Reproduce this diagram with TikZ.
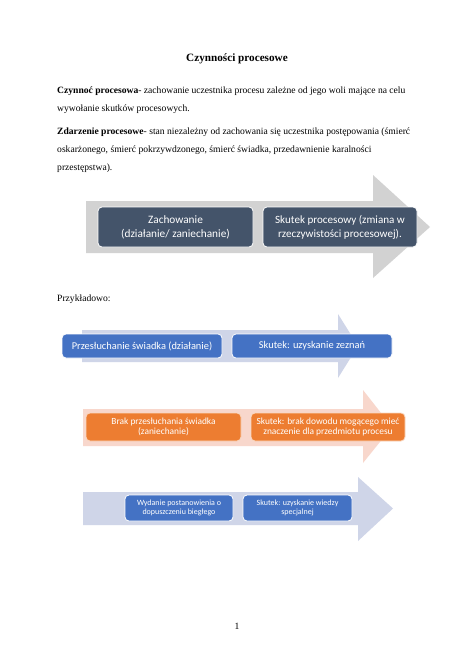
\documentclass[tikz,border=0pt]{standalone}
\usepackage{fontspec}
\setmainfont{Liberation Serif}
\newfontfamily\calibri{Carlito}
\definecolor{arrowgrey}{HTML}{D2D2D2}
\definecolor{slate}{HTML}{44546A}
\definecolor{arrowblue}{HTML}{CFD5E8}
\definecolor{boxblue}{HTML}{4472C4}
\definecolor{arrowsalmon}{HTML}{F8D7CC}
\definecolor{boxorange}{HTML}{ED7D31}
\tikzset{
  bodytext/.style={anchor=base west, inner sep=0pt, font=\fontsize{9.6}{11}\selectfont},
  bigarrow/.style={draw=none},
  procbox/.style={draw=white, line width=0.8pt, rounded corners=4pt, text=white, align=center, inner sep=1pt},
}
\begin{document}
\begin{tikzpicture}[x=1pt,y=-1pt]
\useasboundingbox (0,0) rectangle (474,669);
\fill[white] (0,0) rectangle (474,669);

% title and text
\node[anchor=base, inner sep=0pt, font=\fontsize{11.2}{13}\selectfont\bfseries] (title) at (237,62) {Czynności procesowe};
\node[bodytext] (p1a) at (57,93) {\textbf{Czynnoć procesowa}- zachowanie uczestnika procesu zależne od jego woli mające na celu};
\node[bodytext] (p1b) at (57,111) {wywołanie skutków procesowych.};
\node[bodytext] (p2a) at (57,134) {\textbf{Zdarzenie procesowe}- stan niezależny od zachowania się uczestnika postępowania (śmierć};
\node[bodytext] (p2b) at (57,152) {oskarżonego, śmierć pokrzywdzonego, śmierć świadka, przedawnienie karalności};
\node[bodytext] (p2c) at (57,170) {przestępstwa).};
\node[bodytext] (ex) at (57,301) {Przykładowo:};
\node[anchor=base, inner sep=0pt, font=\fontsize{9.6}{11}\selectfont] (pg) at (237,629) {1};

% arrow 1
\fill[arrowgrey] (86,201) -- (373,201) -- (373,175) -- (430,227) -- (373,278) -- (373,253) -- (86,253) -- cycle;
\node[procbox, fill=slate, minimum width=155pt, minimum height=40pt, font=\calibri\fontsize{11.3}{14}\selectfont] (a1b1) at (175.5,227) {Zachowanie\\(działanie/ zaniechanie)};
\node[procbox, fill=slate, minimum width=154pt, minimum height=40pt, font=\calibri\fontsize{11.1}{14}\selectfont] (a1b2) at (340,227) {Skutek procesowy (zmiana w\\rzeczywistości procesowej).};

% arrow 2
\fill[arrowblue] (82,330) -- (338,330) -- (338,314) -- (358,346) -- (338,378) -- (338,362) -- (82,362) -- cycle;
\node[procbox, fill=boxblue, minimum width=160pt, minimum height=24pt, font=\calibri\fontsize{10.4}{12}\selectfont] (a2b1) at (142,346) {Przesłuchanie świadka (działanie)};
\node[procbox, fill=boxblue, minimum width=160pt, minimum height=24pt, font=\calibri\fontsize{10.4}{12}\selectfont] (a2b2) at (312,346) {Skutek: uzyskanie zeznań};

% arrow 3
\fill[arrowsalmon] (83,409) -- (363,409) -- (363,390) -- (392,427) -- (363,463) -- (363,446) -- (83,446) -- cycle;
\node[procbox, draw=white!70!boxorange, fill=boxorange, minimum width=155pt, minimum height=28pt, font=\calibri\fontsize{9.4}{10.6}\selectfont] (a3b1) at (163.5,427) {Brak przesłuchania świadka\\(zaniechanie)};
\node[procbox, draw=white!70!boxorange, fill=boxorange, minimum width=154pt, minimum height=28pt, font=\calibri\fontsize{9.4}{10.6}\selectfont] (a3b2) at (328,427) {Skutek: brak dowodu mogącego mieć\\znaczenie dla przedmiotu procesu};

% arrow 4
\fill[arrowblue] (83,492) -- (358,492) -- (358,477) -- (393,508.5) -- (358,541) -- (358,525) -- (83,525) -- cycle;
\node[procbox, fill=boxblue, minimum width=108pt, minimum height=26pt, font=\calibri\fontsize{8.0}{9.4}\selectfont] (a4b1) at (179,508) {Wydanie postanowienia o\\dopuszczeniu biegłego};
\node[procbox, fill=boxblue, minimum width=109pt, minimum height=26pt, font=\calibri\fontsize{8.0}{9.4}\selectfont] (a4b2) at (297.5,508) {Skutek: uzyskanie wiedzy\\specjalnej};
\end{tikzpicture}
\end{document}
